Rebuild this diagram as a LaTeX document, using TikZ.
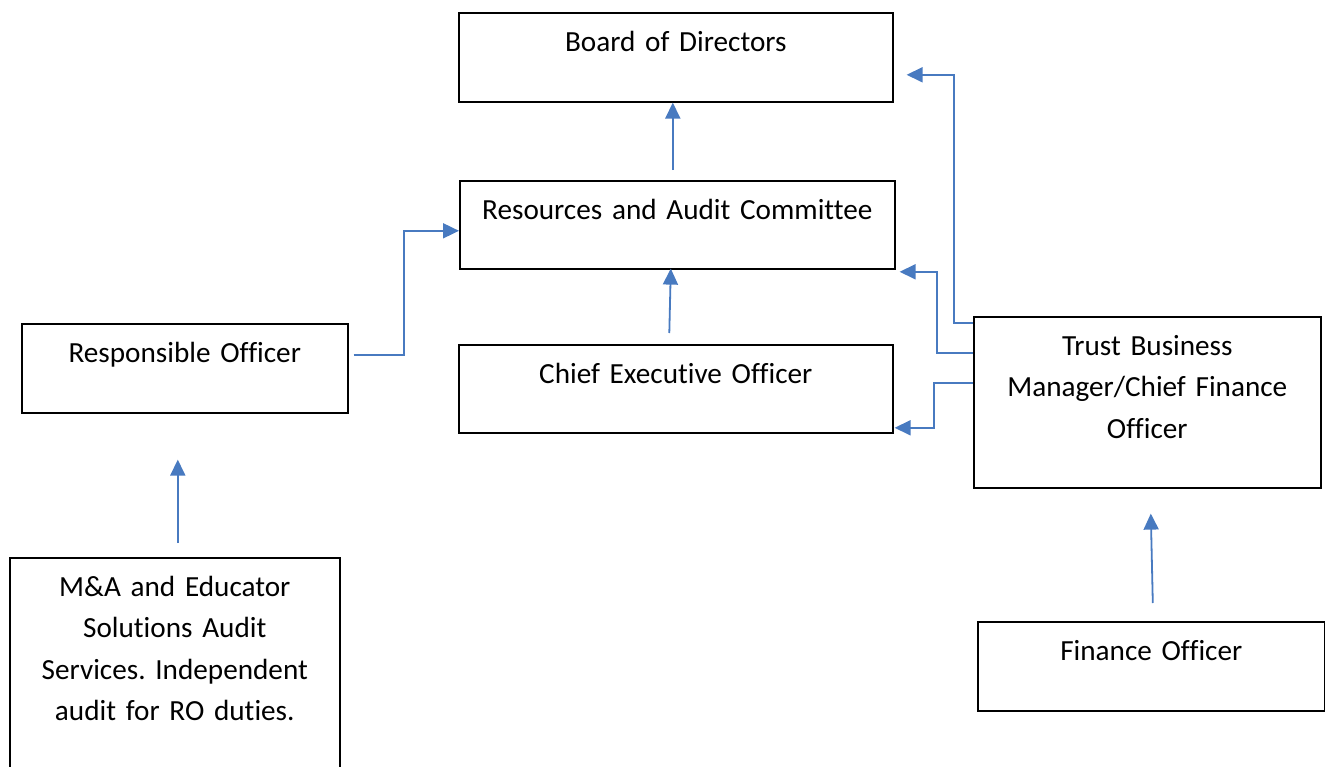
\documentclass[tikz,border=0pt]{standalone}
\usepackage{fontspec}
\setmainfont{Carlito}[Ligatures=NoCommon]
\usetikzlibrary{arrows.meta}

\definecolor{linkblue}{RGB}{72,122,192}

\tikzset{
  box/.style={draw, line width=1.6pt, anchor=north west, align=center,
    inner xsep=0pt, inner ysep=0pt, text height=38.5pt,
    font=\fontsize{29.2}{41.5}\selectfont\frenchspacing},
  conn/.style={draw=linkblue, line width=1.8pt,
    -{Triangle[length=16pt,width=15pt]}}
}

\begin{document}
\begin{tikzpicture}[x=1pt, y=-1pt]

  \useasboundingbox (0,0) rectangle (1325,766);

  % Define nodes
  \node[box, minimum width=434pt, text width=434pt, text depth=50.5pt] (bod) at (458,12) {Board of Directors};
  \node[box, minimum width=435pt, text width=435pt, text depth=49.5pt] (rac) at (459,180) {Resources and Audit Committee};
  \node[box, minimum width=434pt, text width=434pt, text depth=49.5pt] (ceo) at (458,344) {Chief Executive Officer};
  \node[box, minimum width=326pt, text width=326pt, text depth=50.5pt] (ro) at (21,323) {Responsible Officer};
  \node[box, minimum width=347pt, text width=347pt, text depth=132.5pt] (tbm) at (973,316) {Trust Business\\Manager/Chief Finance\\Officer};
  \node[box, minimum width=330pt, text width=330pt, text depth=221.5pt] (mae) at (9,557) {M\&A and Educator\\Solutions Audit\\Services. Independent\\audit for RO duties.};
  \node[box, minimum width=347pt, text width=347pt, text depth=50.5pt] (fo) at (977,621) {Finance Officer};

  % Connect the nodes
  \draw[conn] ([xshift=-4.5pt,yshift=10pt]rac.north) -- ([xshift=-3pt]bod.south);
  \draw[conn] ([xshift=-6.5pt,yshift=11pt]ceo.north) -- ([xshift=-6.5pt,yshift=1pt]rac.south);
  \draw[conn] ([xshift=5pt,yshift=13.5pt]ro.east) -| ([xshift=-55pt,yshift=-6pt]rac.west) -- ([yshift=-6pt]rac.west);
  \draw[conn] ([yshift=-7pt]tbm.north west) -- ++(-19,0) |- ([xshift=13pt,yshift=-17.5pt]bod.east);
  \draw[conn] ([yshift=-37pt]tbm.north west) -- ++(-36,0) |- ([xshift=4pt,yshift=-47pt]rac.east);
  \draw[conn] ([yshift=-67pt]tbm.north west) -- ++(-39,0) |- ([xshift=1pt,yshift=-39pt]ceo.east);
  \draw[conn] ([xshift=3pt,yshift=14pt]mae.north) -- ([xshift=-7pt,yshift=-46pt]ro.south);
  \draw[conn] ([xshift=1.5pt,yshift=18pt]fo.north) -- ([xshift=3.5pt,yshift=-25pt]tbm.south);

\end{tikzpicture}
\end{document}
